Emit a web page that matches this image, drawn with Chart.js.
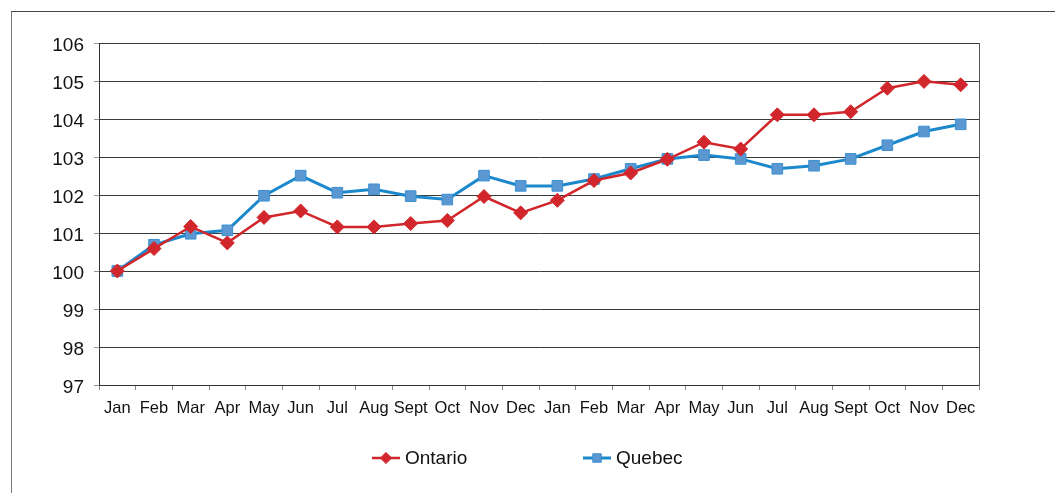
<!DOCTYPE html>
<html>
<head>
<meta charset="utf-8">
<script src="https://cdn.jsdelivr.net/npm/chart.js@4/dist/chart.umd.min.js"></script>
<style>
  html, body { margin: 0; padding: 0; background: #fff; overflow: hidden; }
  #wrap { position: relative; width: 1055px; height: 493px; }
  #frame { position: absolute; left: 11px; top: 11px; width: 1100px; height: 600px;
           border-left: 1px solid #777; border-top: 1px solid #444; }
  #chartBox { position: absolute; left: 0; top: 0; width: 1055px; height: 493px; }
  .legend-item { position: absolute; top: 446px; height: 24px; font: 19px "Liberation Sans", Arial, sans-serif;
                 color: #111; line-height: 24px; }
  .legend-item canvas { position: absolute; left: 0; top: 0; }
  .legend-item span { position: absolute; top: 0; white-space: nowrap; }
</style>
</head>
<body>
<div id="wrap">
  <div id="frame"></div>
  <div id="chartBox"><canvas id="indexChart" width="1055" height="493"></canvas></div>
  <div id="legend"></div>
</div>
<script>
// month labels, two years
const months = ['Jan', 'Feb', 'Mar', 'Apr', 'May', 'Jun', 'Jul', 'Aug', 'Sept', 'Oct', 'Nov', 'Dec',
                'Jan', 'Feb', 'Mar', 'Apr', 'May', 'Jun', 'Jul', 'Aug', 'Sept', 'Oct', 'Nov', 'Dec'];

const ontario = [100, 100.59, 101.17, 100.74, 101.41, 101.58, 101.16, 101.16, 101.25, 101.33, 101.96, 101.53,
                 101.86, 102.38, 102.58, 102.94, 103.39, 103.21, 104.11, 104.11, 104.19, 104.81, 104.99, 104.90];

const quebec = [100, 100.69, 100.98, 101.07, 101.98, 102.51, 102.06, 102.15, 101.97, 101.88, 102.51, 102.24,
                102.24, 102.42, 102.69, 102.95, 103.05, 102.95, 102.69, 102.77, 102.95, 103.31, 103.67, 103.86];

const yMin = 97;
const yMax = 106;

const ontarioColor = '#d1262b';
const quebecLine = '#1c88cc';
const quebecFill = '#5b98d2';

const ctx = document.getElementById('indexChart').getContext('2d');

const indexChart = new Chart(ctx, {
    type: 'line',
    data: {
        labels: months,
        datasets: [
            {
                label: 'Ontario',
                data: ontario,
                borderColor: ontarioColor,
                backgroundColor: ontarioColor,
                borderWidth: 2.5,
                pointStyle: 'rectRot',
                pointRadius: 7,
                pointBorderWidth: 1,
                pointBorderColor: ontarioColor,
                tension: 0
            },
            {
                label: 'Quebec',
                data: quebec,
                borderColor: quebecLine,
                backgroundColor: quebecFill,
                borderWidth: 3,
                pointStyle: 'rect',
                pointRadius: 7.5,
                pointBorderWidth: 1,
                pointBorderColor: '#3a8fd2',
                tension: 0
            }
        ]
    },
    options: {
        responsive: false,
        animation: false,
        layout: { padding: { left: 0, right: 76, top: 43, bottom: 0 } },
        plugins: {
            legend: { display: false },
            tooltip: { enabled: false }
        },
        scales: {
            x: {
                offset: true,
                grid: {
                    offset: true,
                    drawOnChartArea: false,
                    drawTicks: true,
                    tickLength: 5,
                    tickColor: '#888'
                },
                border: { display: true, color: '#333', width: 1 },
                ticks: {
                    autoSkip: false,
                    maxRotation: 0,
                    padding: 9,
                    color: '#111',
                    font: { family: '"Liberation Sans Narrow", "Liberation Sans", Arial, sans-serif', size: 16.5 }
                },
                afterFit: (scale) => { scale.height = 108; }
            },
            y: {
                min: yMin,
                max: yMax,
                grid: {
                    color: '#3a3a3a',
                    lineWidth: 1,
                    tickLength: 5,
                    tickColor: '#999'
                },
                border: { display: true, color: '#333', width: 1 },
                ticks: {
                    stepSize: 1,
                    padding: 10,
                    labelOffset: 3,
                    color: '#111',
                    font: { family: '"Liberation Sans", Arial, sans-serif', size: 19 }
                },
                afterFit: (scale) => { scale.width = 99; }
            },
            y2: {
                position: 'right',
                min: yMin,
                max: yMax,
                grid: { drawOnChartArea: false, drawTicks: false },
                border: { display: true, color: '#555', width: 1 },
                ticks: { display: false },
                afterFit: (scale) => { scale.width = 0; }
            }
        }
    }
});

// html legend with line + marker icons
function makeLegend(ds, left) {
    const item = document.createElement('div');
    item.className = 'legend-item';
    item.style.left = left + 'px';
    const icon = document.createElement('canvas');
    icon.width = 30;
    icon.height = 24;
    const c = icon.getContext('2d');
    c.strokeStyle = ds.borderColor;
    c.lineWidth = ds.borderWidth;
    c.beginPath();
    c.moveTo(1, 12);
    c.lineTo(29, 12);
    c.stroke();
    c.fillStyle = ds.backgroundColor;
    c.strokeStyle = ds.pointBorderColor;
    c.lineWidth = 1;
    Chart.helpers.drawPoint(c, { pointStyle: ds.pointStyle, radius: ds.pointRadius * 0.8, rotation: 0, borderWidth: 1 }, 15, 12);
    item.appendChild(icon);
    const txt = document.createElement('span');
    txt.style.left = '34px';
    txt.textContent = ds.label;
    item.appendChild(txt);
    document.getElementById('legend').appendChild(item);
}

makeLegend(indexChart.data.datasets[0], 371);
makeLegend(indexChart.data.datasets[1], 582);
</script>
</body>
</html>
